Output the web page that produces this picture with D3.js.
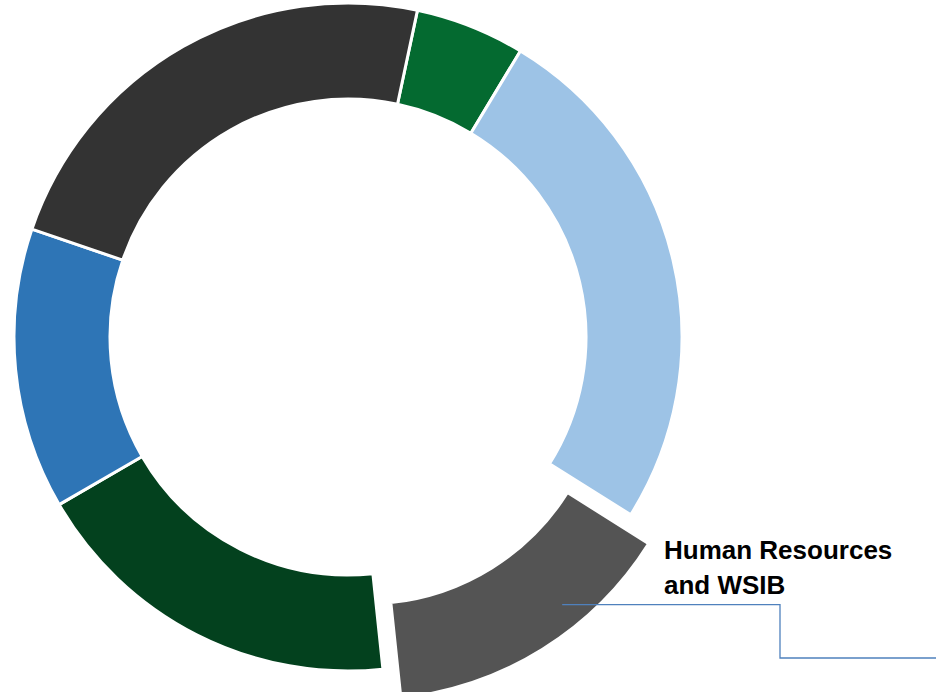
<!DOCTYPE html>
<html>
<head>
<meta charset="utf-8">
<script src="https://cdn.jsdelivr.net/npm/d3@7"></script>
<style>
  html, body { margin: 0; padding: 0; background: #ffffff; }
  svg { display: block; }
</style>
</head>
<body>
<svg id="chart" width="941" height="692"></svg>
<script>
// ---- data ----
const categories = ["Category A", "Category B", "Human Resources and WSIB", "Category D", "Category E", "Category F"];
const values = [5.3, 25.3, 14.4, 18.3, 13.6, 23.1];
const colors = ["#046a30", "#9dc3e6", "#545454", "#03411e", "#2e75b6", "#333333"];
const explodedIndex = 2;
const labelLines = ["Human Resources", "and WSIB"];

// ---- layout ----
const cx = 348, cy = 337;
const outerR = 334, innerR = 238;
const explode = 34;
const startDeg = 12;

const svg = d3.select("#chart");
const g = svg.append("g").attr("transform", `translate(${cx},${cy})`);

const data = categories.map((c, i) => ({ name: c, value: values[i], color: colors[i], i }));

const pie = d3.pie()
  .sort(null)
  .value(d => d.value)
  .startAngle(startDeg * Math.PI / 180)
  .endAngle(startDeg * Math.PI / 180 + 2 * Math.PI);

const arc = d3.arc().innerRadius(innerR).outerRadius(outerR);
const arcs = pie(data);

g.selectAll("path.slice")
  .data(arcs)
  .join("path")
  .attr("class", "slice")
  .attr("d", arc)
  .attr("fill", d => d.data.color)
  .attr("stroke", "#ffffff")
  .attr("stroke-width", 3)
  .attr("stroke-linejoin", "miter")
  .attr("transform", d => {
    if (d.data.i !== explodedIndex) return null;
    const mid = (d.startAngle + d.endAngle) / 2;
    return `translate(${explode * Math.sin(mid)},${-explode * Math.cos(mid)})`;
  });

// ---- label with leader line ----
const ex = arcs[explodedIndex];
const mid = (ex.startAngle + ex.endAngle) / 2;
const anchorR = (innerR + outerR) / 2 + explode;
const ax = cx + anchorR * Math.sin(mid) + 45;
const ay = cy - anchorR * Math.cos(mid) - 4;

const leader = [[ax, ay], [780, ay], [780, 658], [936, 658]];
svg.append("path")
  .attr("d", d3.line()(leader))
  .attr("fill", "none")
  .attr("stroke", "#4f81bd")
  .attr("stroke-width", 1.3);

const label = svg.append("text")
  .attr("x", 664)
  .attr("y", 559)
  .attr("font-family", "Liberation Sans, Arial, sans-serif")
  .attr("font-weight", "bold")
  .attr("font-size", 26)
  .attr("fill", "#000000");
labelLines.forEach((t, i) => {
  label.append("tspan").attr("x", 664).attr("dy", i === 0 ? 0 : 35).text(t);
});
</script>
</body>
</html>
